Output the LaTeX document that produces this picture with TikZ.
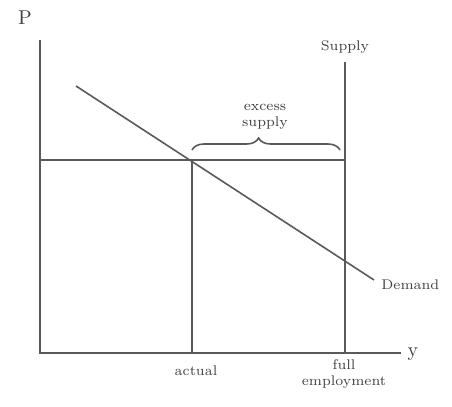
\documentclass[tikz,border=0pt]{standalone}
\usetikzlibrary{positioning,decorations.pathreplacing}
\begin{document}
\begin{tikzpicture}[x=0.5pt, y=-0.5pt, font=\scriptsize,
 ax/.style={draw=black!65, line width=0.9pt},
 curve/.style={ax, line width=0.8pt},
 lbl/.style={inner sep=1pt, text=black!75, align=center},
 axlbl/.style={lbl, font=\normalsize}]
\useasboundingbox (0,0) rectangle (452,407);
% axes and key points
\coordinate (O) at (40,353);
\coordinate (ytop) at (40,40);
\coordinate (xend) at (401,353);
\coordinate (pl) at (40,160);
\coordinate (eq) at (192,160);
\coordinate (act) at (192,353);
\coordinate (full) at (345,353);
\coordinate (stop) at (345,62);
\coordinate (sp) at (345,160);
\coordinate (dtop) at (76,86);
\coordinate (dend) at (374,280);
\node[axlbl] (P) at (25,18) {P};
\node[axlbl] (y) at (413,354) {y};
\node[lbl, anchor=south] (sup) at (345,56) {Supply};
\node[lbl, anchor=west] (dem) at (379,285) {Demand};
\node[lbl] (actual) at (196,371) {actual};
\node[lbl] (fe) at (344,374) {full\\employment};
\node[lbl] (ex) at (265,117) {excess\\supply};
\draw[ax] (ytop) -- (O) -- (xend);
\draw[ax] (pl) -- (sp);
\draw[ax] (eq) -- (act);
\draw[ax] (stop) -- (full);
\draw[curve] (dtop) -- (dend);
\draw[curve, decorate, decoration={brace, amplitude=6pt, aspect=0.45}]
 (192,150) -- (340,150);
\end{tikzpicture}
\end{document}
